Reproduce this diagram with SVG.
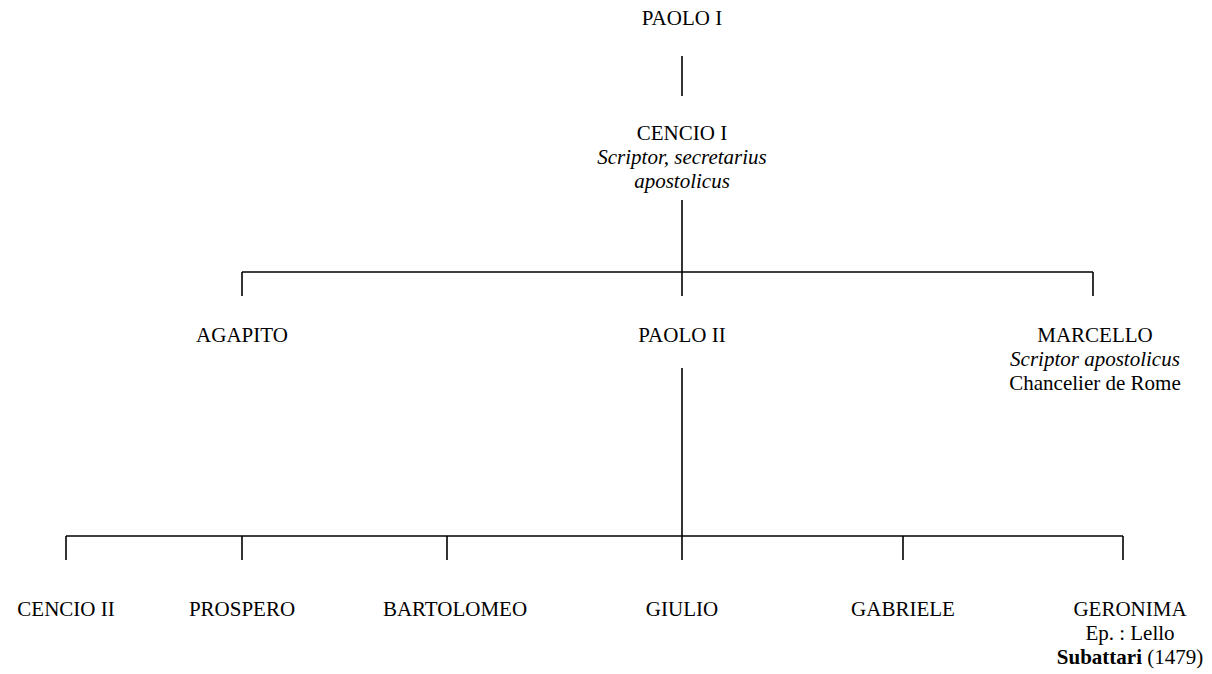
<svg xmlns="http://www.w3.org/2000/svg" width="1212" height="674" viewBox="0 0 1212 674">
<style>
text{font-family:"Liberation Serif","Times New Roman",serif;font-size:21px;fill:#000;text-anchor:middle}
.i{font-style:italic}
.b{font-weight:bold}
#connectors line{stroke:#000;stroke-width:1.6}
</style>
<rect width="1212" height="674" fill="#fff"/>
<g id="connectors">
<line x1="682" y1="56" x2="682" y2="96"/>
<line x1="682" y1="200" x2="682" y2="296"/>
<line x1="242" y1="272" x2="1093" y2="272"/>
<line x1="242" y1="272" x2="242" y2="296"/>
<line x1="1093" y1="272" x2="1093" y2="296"/>
<line x1="682" y1="368" x2="682" y2="560"/>
<line x1="66" y1="536" x2="1123" y2="536"/>
<line x1="66" y1="536" x2="66" y2="560"/>
<line x1="242" y1="536" x2="242" y2="560"/>
<line x1="447" y1="536" x2="447" y2="560"/>
<line x1="903" y1="536" x2="903" y2="560"/>
<line x1="1123" y1="536" x2="1123" y2="560"/>
</g>
<g id="paolo1"><text x="682" y="25">PAOLO I</text></g>
<g id="cencio1"><text x="682" y="140">CENCIO I</text><text class="i" x="682" y="164">Scriptor, secretarius</text><text class="i" x="682" y="188">apostolicus</text></g>
<g id="agapito"><text x="242" y="342">AGAPITO</text></g>
<g id="paolo2"><text x="682" y="342">PAOLO II</text></g>
<g id="marcello"><text x="1095" y="342">MARCELLO</text><text class="i" x="1095" y="366">Scriptor apostolicus</text><text x="1095" y="390">Chancelier de Rome</text></g>
<g id="cencio2"><text x="66" y="616">CENCIO II</text></g>
<g id="prospero"><text x="242" y="616">PROSPERO</text></g>
<g id="bartolomeo"><text x="455" y="616">BARTOLOMEO</text></g>
<g id="giulio"><text x="682" y="616">GIULIO</text></g>
<g id="gabriele"><text x="903" y="616">GABRIELE</text></g>
<g id="geronima"><text x="1130" y="616">GERONIMA</text><text x="1130" y="640">Ep. : Lello</text><text x="1130" y="664"><tspan class="b">Subattari</tspan> (1479)</text></g>
</svg>
